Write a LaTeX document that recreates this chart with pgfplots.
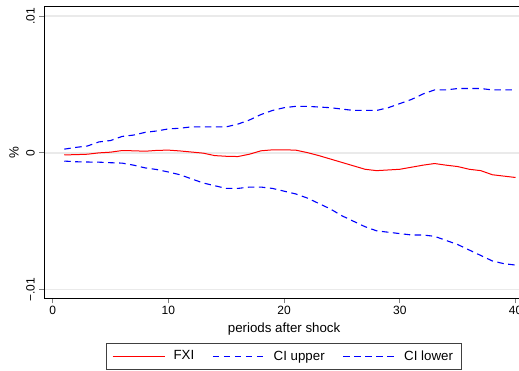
\documentclass[border=0pt]{standalone}
\usepackage{fontspec}
\setmainfont{Liberation Sans}
\usepackage{pgfplots}
\usepackage{pgfplotstable}
\pgfplotsset{compat=1.18}
\definecolor{gridgray}{RGB}{234,234,234}
\pgfplotstableread{
t fxi up lo
1 -0.00015 0.00027 -0.0006
2 -0.00013 0.0004 -0.00065
3 -0.0001 0.0005 -0.00067
4 0.0000 0.0008 -0.00068
5 0.00005 0.0009 -0.00072
6 0.00017 0.0012 -0.00075
7 0.00015 0.0013 -0.0009
8 0.00012 0.0015 -0.0011
9 0.00018 0.0016 -0.00122
10 0.0002 0.00175 -0.0014
11 0.00014 0.0018 -0.0016
12 0.00006 0.0019 -0.0019
13 -0.00002 0.0019 -0.0022
14 -0.0002 0.0019 -0.0024
15 -0.00025 0.0019 -0.0026
16 -0.00027 0.0021 -0.0026
17 -0.0001 0.0024 -0.0025
18 0.00015 0.0028 -0.0025
19 0.00022 0.0031 -0.0026
20 0.00022 0.0033 -0.0028
21 0.0002 0.0034 -0.003
22 0.00002 0.0034 -0.0033
23 -0.0002 0.00335 -0.0037
24 -0.00045 0.0033 -0.0041
25 -0.0007 0.0032 -0.0046
26 -0.00095 0.0031 -0.005
27 -0.0012 0.0031 -0.0054
28 -0.0013 0.0031 -0.0057
29 -0.00125 0.0033 -0.0058
30 -0.0012 0.0036 -0.0059
31 -0.00105 0.0039 -0.006
32 -0.0009 0.0043 -0.006
33 -0.00078 0.0046 -0.0061
34 -0.0009 0.0046 -0.0064
35 -0.001 0.0047 -0.0067
36 -0.0012 0.0047 -0.0071
37 -0.0013 0.0047 -0.0075
38 -0.0016 0.0046 -0.0079
39 -0.0017 0.0046 -0.0081
40 -0.0018 0.0046 -0.0082
}\irf
\begin{document}
\begin{tikzpicture}[x=1pt,y=1pt]
\fill[white] (0,0) rectangle (519,371);
\begin{axis}[
  at={(44pt,72pt)}, anchor=south west,
  scale only axis, width=480.2pt, height=292pt,
  xmin=-0.75, xmax=40.75, ymin=-0.01068, ymax=0.01066,
  scaled y ticks=false, scaled x ticks=false,
  xtick={0,10,20,30,40}, xticklabels={0,10,20,30,40},
  ytick={-0.01,0,0.01}, yticklabels={−.01,0,.01},
  tick align=outside, tick pos=left,
  major tick length=4.5pt,
  major tick style={line width=0.8pt},
  axis line style={line width=1pt},
  ymajorgrids, grid style={gridgray, line width=1.3pt},
  xticklabel style={font=\fontsize{12}{14}\selectfont, inner sep=0pt, anchor=north, yshift=-2pt},
  yticklabel style={font=\fontsize{12}{14}\selectfont, inner sep=0pt, rotate=90, anchor=south, yshift=4.5pt},
  every axis x label/.style={at={(axis description cs:0.5,0)}, anchor=north, inner sep=0pt, yshift=-23.5pt, font=\fontsize{13.3}{15}\selectfont},
  every axis y label/.style={at={(axis description cs:-0.0625,0.5)}, anchor=center, rotate=90, inner sep=0pt, font=\fontsize{13.3}{15}\selectfont},
  xlabel={periods after shock},
  ylabel={\%},
  legend columns=3,
  legend style={at={(axis description cs:0.4989,-0.1500)}, anchor=north,
    draw=black!75, inner xsep=6.3pt, inner ysep=5.6pt, column sep=6.4pt,
    font=\fontsize{13.3}{15}\selectfont,
    /tikz/every even column/.append style={column sep=16pt}},
  legend image code/.code={\draw[mark repeat=2,mark phase=2,#1] plot coordinates {(0pt,0pt) (26pt,0pt) (52pt,0pt)};},
]
\addplot[red, line width=1pt] table[x=t,y=fxi]{\irf};
\addlegendentry{FXI}
\addplot[blue, line width=1.1pt, dash pattern=on 6.5pt off 4.5pt] table[x=t,y=up]{\irf};
\addlegendentry{CI upper}
\addplot[blue, line width=1.1pt, dash pattern=on 6.5pt off 4.5pt] table[x=t,y=lo]{\irf};
\addlegendentry{CI lower}
\end{axis}
\pgfresetboundingbox
\path[use as bounding box] (0,0) rectangle (519,371);
\end{tikzpicture}
\end{document}
